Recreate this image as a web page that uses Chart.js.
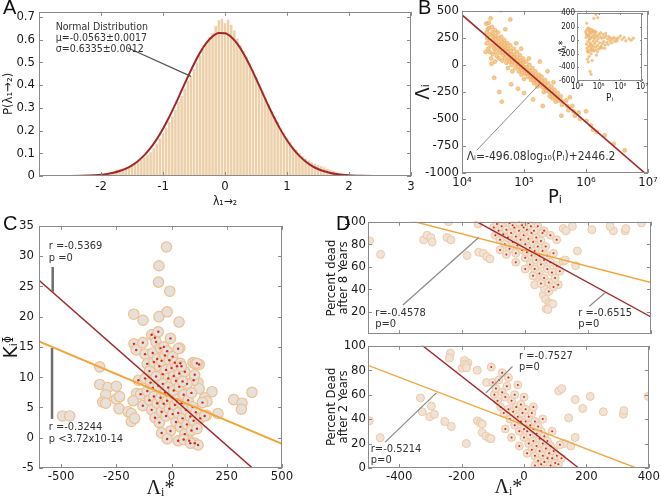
<!DOCTYPE html>
<html lang="en">
<head>
<meta charset="UTF-8">
<title>Lambda panels</title>
<script src="https://cdn.jsdelivr.net/npm/chart.js"></script>
<style>
    body { margin: 0; background: #fff; }
    #fig {
        position: relative;
        width: 661px;
        height: 501px;
        overflow: hidden;
        font-family: 'Liberation Sans', Arial, sans-serif;
    }
    #fig canvas { position: absolute; }
    .tag { position: absolute; font-size: 20px; line-height: 20px; color: #111; }
</style>
</head>
<body>
<div id="fig">
    <canvas id="chart-a" width="420" height="212" style="left:0;top:0"></canvas>
    <canvas id="chart-b" width="251" height="212" style="left:410px;top:0"></canvas>
    <canvas id="inset" width="100" height="98" style="left:550px;top:6px"></canvas>
    <canvas id="chart-c" width="300" height="288" style="left:0;top:213px"></canvas>
    <canvas id="chart-d1" width="339" height="132" style="left:322px;top:212px"></canvas>
    <canvas id="chart-d2" width="339" height="165" style="left:322px;top:336px"></canvas>
    <div class="tag" style="left:3px;top:-3px">A</div>
    <div class="tag" style="left:418px;top:-3px">B</div>
    <div class="tag" style="left:3px;top:213px">C</div>
    <div class="tag" style="left:336px;top:213px">D</div>
</div>
<script>
// ---- panel A: histogram of lambda and normal fit
const aBinCenters = [
    -2.00, -1.95, -1.90, -1.85, -1.80, -1.75, -1.70, -1.65, -1.60, -1.55,
    -1.50, -1.45, -1.40, -1.35, -1.30, -1.25, -1.20, -1.15, -1.10, -1.05,
    -1.00, -0.95, -0.90, -0.85, -0.80, -0.75, -0.70, -0.65, -0.60, -0.55,
    -0.50, -0.45, -0.40, -0.35, -0.30, -0.25, -0.20, -0.15, -0.10, -0.05,
    0.00, 0.05, 0.10, 0.15, 0.20, 0.25, 0.30, 0.35, 0.40, 0.45,
    0.50, 0.55, 0.60, 0.65, 0.70, 0.75, 0.80, 0.85, 0.90, 0.95,
    1.00, 1.05, 1.10, 1.15, 1.20, 1.25, 1.30, 1.35, 1.40, 1.45,
    1.50, 1.55, 1.60, 1.65, 1.70, 1.75, 1.80
];
const aBinHeights = [
    0.004, 0.006, 0.010, 0.014, 0.020, 0.027, 0.030, 0.033, 0.036, 0.042,
    0.046, 0.052, 0.060, 0.070, 0.082, 0.092, 0.104, 0.122, 0.142, 0.165,
    0.188, 0.212, 0.238, 0.262, 0.290, 0.325, 0.352, 0.385, 0.420, 0.440,
    0.470, 0.500, 0.530, 0.560, 0.590, 0.610, 0.630, 0.660, 0.685, 0.690,
    0.672, 0.688, 0.665, 0.640, 0.605, 0.575, 0.550, 0.525, 0.495, 0.465,
    0.435, 0.405, 0.375, 0.345, 0.315, 0.285, 0.262, 0.238, 0.210, 0.190,
    0.168, 0.150, 0.130, 0.115, 0.100, 0.088, 0.077, 0.068, 0.060, 0.054,
    0.048, 0.043, 0.038, 0.032, 0.028, 0.022, 0.015
];
const aCurveX = [-3, -2.5, -2.2, -2, -1.9, -1.8, -1.7, -1.6, -1.5, -1.4, -1.3, -1.2, -1.1, -1, -0.9, -0.8, -0.7,
    -0.6, -0.5, -0.4, -0.3, -0.2, -0.1, 0, 0.1, 0.2, 0.3, 0.4, 0.5, 0.6, 0.7, 0.8, 0.9, 1, 1.1, 1.2, 1.3,
    1.4, 1.5, 1.6, 1.7, 1.8, 2, 2.2, 2.5, 3];
const aCurveY = [0, 0.0004, 0.002, 0.0057, 0.0091, 0.0142, 0.0217, 0.0323, 0.0469, 0.0663, 0.0916, 0.1234, 0.162,
    0.2076, 0.2594, 0.316, 0.3758, 0.4358, 0.4928, 0.5436, 0.585, 0.614, 0.6285, 0.6275, 0.611, 0.5806, 0.538,
    0.4862, 0.4286, 0.3686, 0.309, 0.2528, 0.2017, 0.157, 0.1192, 0.0883, 0.0638, 0.0449, 0.0309, 0.0207,
    0.0135, 0.0086, 0.0033, 0.0011, 0.0002, 0];
const aXTicks = [-2, -1, 0, 1, 2, 3];
const aYTicks = [0, 0.1, 0.2, 0.3, 0.4, 0.5, 0.6, 0.7];

// ---- panel B: Lambda_i against P_i (log) with fitted line
const bPoints = [
    [2.45e4, 380], [2.5e4, 300], [2.55e4, 245], [2.6e4, 330], [2.5e4, 200], [2.65e4, 150], [2.4e4, 120],
    [2.7e4, 390], [2.75e4, 340], [2.8e4, 280], [2.85e4, 225], [2.9e4, 180], [2.8e4, 120], [2.95e4, 60], [2.9e4, 430],
    [3.05e4, 350], [3.1e4, 300], [3.15e4, 265], [3.2e4, 230], [3.25e4, 190], [3.3e4, 150], [3.1e4, 100], [3.0e4, 10],
    [3.4e4, 320], [3.45e4, 270], [3.5e4, 240], [3.55e4, 200], [3.6e4, 160], [3.5e4, 120], [3.65e4, 80], [3.4e4, 30], [3.3e4, -120],
    [3.8e4, 300], [3.85e4, 250], [3.9e4, 210], [4.0e4, 180], [4.05e4, 140], [4.1e4, 110], [3.95e4, 60], [4.0e4, -250], [4.2e4, 505],
    [4.3e4, 260], [4.35e4, 220], [4.4e4, 185], [4.5e4, 150], [4.55e4, 120], [4.6e4, 90], [4.45e4, 40], [4.4e4, -340],
    [4.8e4, 230], [4.9e4, 190], [5.0e4, 160], [5.1e4, 130], [5.05e4, 100], [4.95e4, 60], [5.2e4, 20], [5.0e4, 330],
    [5.4e4, 200], [5.5e4, 150], [5.6e4, 120], [5.7e4, 90], [5.65e4, 60], [5.8e4, 30], [5.5e4, -30],
    [6.0e4, 180], [6.1e4, 130], [6.2e4, 95], [6.35e4, 60], [6.45e4, 30], [6.3e4, 0], [6.5e4, -60], [6.2e4, -180], [6.0e4, 420],
    [6.8e4, 150], [6.9e4, 100], [7.0e4, 70], [7.1e4, 40], [7.3e4, 10], [7.2e4, -30], [7.5e4, 200],
    [7.7e4, 120], [7.8e4, 70], [7.9e4, 40], [8.0e4, 10], [8.1e4, -20], [8.2e4, -60], [8.0e4, -220],
    [8.6e4, 90], [8.8e4, 40], [8.9e4, 10], [9.0e4, -20], [9.2e4, -50], [9.1e4, -90], [9.0e4, 150],
    [9.6e4, 60], [9.8e4, 20], [1.0e5, -20], [1.02e5, -50], [1.04e5, -80], [1.0e5, -130], [1.0e5, -260],
    [1.08e5, 30], [1.1e5, -20], [1.12e5, -50], [1.14e5, -80], [1.16e5, -110], [1.2e5, 60],
    [1.22e5, 0], [1.24e5, -50], [1.26e5, -80], [1.28e5, -110], [1.3e5, -140],
    [1.36e5, -30], [1.38e5, -80], [1.41e5, -110], [1.44e5, -140], [1.46e5, -170], [1.4e5, -320],
    [1.52e5, -60], [1.55e5, -100], [1.58e5, -130], [1.61e5, -160], [1.64e5, -200],
    [1.72e5, -90], [1.75e5, -130], [1.78e5, -160], [1.82e5, -190], [1.8e5, 30],
    [1.92e5, -110], [1.96e5, -150], [2.0e5, -180], [2.04e5, -210], [2.08e5, -250], [2.0e5, -380],
    [2.18e5, -140], [2.22e5, -180], [2.25e5, -210], [2.3e5, -240], [2.4e5, -60],
    [2.45e5, -170], [2.5e5, -220], [2.55e5, -250], [2.6e5, -290],
    [2.75e5, -200], [2.8e5, -240], [2.85e5, -270], [2.9e5, -310], [3.0e5, -160],
    [3.1e5, -230], [3.15e5, -270], [3.2e5, -300], [3.25e5, -340],
    [3.5e5, -260], [3.55e5, -300], [3.6e5, -330],
    [3.9e5, -290], [4.0e5, -330], [4.1e5, -370], [4.0e5, -470],
    [4.8e5, -330], [5.0e5, -380], [5.2e5, -420], [5.5e5, -300],
    [6.0e5, -380], [6.3e5, -430], [6.6e5, -470],
    [7.6e5, -440], [8.0e5, -500],
    [1.0e6, -430], [1.02e6, -520], [1.2e6, -560], [1.3e6, -600], [1.5e6, -620],
    [2.0e6, -650], [2.8e6, -730], [4.2e6, -790]
];
const bFitP = [1e4, 1e7];
const bFitL = [461.9, -1026.0];
const bXTicks = [1e4, 1e5, 1e6, 1e7];
const bYTicks = [-1000, -750, -500, -250, 0, 250, 500];

// ---- inset of B: Lambda*_i against P_i
const insetPoints = [
    [2.5e4, 120], [2.6e4, 40], [2.7e4, -60], [2.8e4, 150], [2.9e4, -120], [3.0e4, 80], [3.1e4, -20], [3.2e4, 180],
    [3.3e4, -180], [3.4e4, 60], [3.5e4, -90], [3.6e4, 130], [3.7e4, 10], [3.8e4, -150], [3.9e4, 90], [4.0e4, -40],
    [4.2e4, 160], [4.3e4, -110], [4.4e4, 30], [4.5e4, -200], [4.6e4, 110], [4.8e4, -70], [5.0e4, 50], [5.2e4, -130],
    [5.4e4, 140], [5.6e4, -20], [5.8e4, 70], [6.0e4, -160], [6.3e4, 100], [6.6e4, -50], [7.0e4, 40], [7.3e4, -100],
    [7.6e4, 120], [8.0e4, -10], [8.5e4, 60], [9.0e4, -80], [9.5e4, 20], [1.0e5, -130], [1.05e5, 90], [1.1e5, -40],
    [1.2e5, 50], [1.3e5, -90], [1.4e5, 30], [1.5e5, -50], [1.6e5, 80], [1.7e5, -20], [1.8e5, 40], [2.0e5, -70],
    [2.2e5, 60], [2.4e5, -30], [2.6e5, 20], [2.8e5, -60], [3.0e5, 50], [3.3e5, -10], [3.6e5, 30], [4.0e5, -40],
    [4.4e5, 10], [5.0e5, 40], [5.5e5, -20], [6.3e5, 20], [7.0e5, -10], [8.0e5, 30], [1.0e6, 60], [1.2e6, 10],
    [1.5e6, 40], [1.8e6, -10], [2.5e6, 20], [3.2e6, 0], [4.0e6, 30],
    [2.7e4, 90], [3.0e4, -160], [3.2e4, 60], [3.5e4, 170], [3.8e4, 20], [4.1e4, -60], [4.4e4, 120], [4.7e4, -150],
    [5.1e4, 150], [5.5e4, -90], [6.1e4, 20], [6.8e4, 130], [7.2e4, -140], [7.8e4, 70], [8.8e4, -170], [1.15e5, -120],
    [1.25e5, 110], [1.45e5, -110], [1.9e5, -120], [2.1e5, 100],
    [3.0e4, -280], [3.3e4, -320], [4.0e4, -460], [4.5e4, -500], [5.0e4, -300], [7.5e4, 380], [6.0e4, 320],
    [9.0e4, 330], [8.0e4, -220], [2.8e4, 250], [3.6e4, -240]
];
const insetYTicks = [-600, -400, -200, 0, 200, 400];

// ---- panel C: K_i against Lambda*_i
const cOuter = [
    [-23, 31.5], [-57, 28.4], [-59, 25.7], [-8, 24.2], [-171, 20.4], [-129, 19.4], [-57, 20.0], [-20, 20.8], [34, 19.1],
    [-325, 11.7], [-325, 8.8], [-288, 8.3], [-298, 7.1], [-312, 5.9], [-298, 5.7], [-250, 8.5], [-250, 6.4],
    [-235, 6.8], [-238, 4.8], [-197, 4.3], [-182, 4.0], [-182, 2.7], [-167, 3.2], [-159, 7.3], [-174, 6.1],
    [-494, 3.6], [-461, 3.6],
    [210, 4.0], [281, 6.3], [319, 5.7], [316, 4.7], [364, 7.5], [183, 7.6], [150, 6.6], [160, 6.0], [158, 3.7],
    [97, 12.4], [107, 12.2], [120, 9.1], [125, 8.1], [37, 14.8]
];
const cCore = [
    [-170, 15.5], [-160, 14.5], [-130, 15.7], [-120, 13.8], [-110, 12.2], [-100, 11], [-90, 17], [-85, 14],
    [-80, 12.5], [-75, 16.5], [-70, 15.8], [-65, 13], [-60, 17.5], [-55, 11.8], [-50, 14.8], [-45, 12.7],
    [-40, 10.5], [-35, 15], [-30, 13.6], [-25, 11.2], [-20, 14.3], [-15, 9.8], [-10, 12.8], [-5, 16.4],
    [0, 11.5], [5, 13.4], [10, 10.2], [15, 12.4], [20, 9.4], [25, 11.8], [30, 14.7], [35, 10.6], [40, 12.3],
    [-150, 9.5], [-140, 7.2], [-130, 5.3], [-120, 9.8], [-110, 7.7], [-100, 6.2], [-95, 9.1], [-90, 4.6],
    [-85, 8.2], [-80, 6.8], [-75, 3.3], [-70, 10.1], [-65, 5.7], [-60, 8.6], [-55, 2.5], [-50, 6.6],
    [-45, 4.3], [-40, 8.9], [-35, 5.6], [-30, 7.4], [-25, 3.6], [-20, 6.1], [-15, 8.3], [-10, 4.8],
    [-5, 1.1], [0, 6.7], [5, 3.9], [10, 7.8], [15, 5.4], [20, 2.6], [25, 6.3], [30, 4.1], [35, 8.4],
    [40, 1.8], [45, 5.7], [50, 3.2], [55, 7.1], [60, 0.6], [65, 4.6], [70, 2.2], [75, 6.2], [80, -0.5],
    [85, 3.5], [90, 1.2], [95, 5.1], [100, 2.8], [105, -0.9], [110, 4.2], [115, 1.5], [120, -1.2],
    [125, 12.1], [130, 3.2], [100, 9.5], [90, 7.4], [70, 8.9], [60, 10.9], [50, 9.3], [45, 11.8],
    [140, 5.8], [150, 3.6], [-45, 0.8], [-20, -0.2], [30, -0.5], [55, -0.3], [85, -0.9], [105, 10.4], [115, 12.3]
];
const cFitDark = [[-600, 26.0], [500, -9.3]];
const cFitOrange = [[-600, 15.9], [500, -1.0]];
const cXTicks = [-500, -250, 0, 250, 500];
const cYTicks = [-5, 0, 5, 10, 15, 20, 25, 30, 35];

// ---- panel D: percent dead after 8 and 2 years against Lambda*_i
const d8Outer = [
    [-495, 83], [-460, 71], [-323, 84], [-312, 88], [-300, 86], [-296, 82], [-249, 86], [-236, 84], [-244, 100],
    [-185, 70], [-148, 73], [-133, 72], [-122, 69], [-112, 67], [-150, 98],
    [121, 65], [127, 66], [166, 74], [160, 61], [121, 94], [130, 92], [150, 96], [212, 93], [280, 92],
    [318, 92], [320, 94], [370, 99], [270, 96],
    [58, 35], [62, 40], [65, 31], [67, 22.5], [75, 28], [80, 27], [88, 27], [72, 22], [40, 46], [30, 44]
];
const d8Core = [
    [-100, 95], [-95, 88], [-90, 98], [-85, 92], [-80, 84], [-75, 96], [-70, 89], [-65, 80], [-60, 93],
    [-55, 86], [-50, 99], [-50, 76], [-45, 90], [-40, 82], [-35, 95], [-30, 87], [-30, 72], [-25, 79],
    [-20, 92], [-15, 84], [-10, 97], [-10, 75], [-5, 88], [0, 80], [0, 68], [5, 93], [5, 73], [10, 85],
    [15, 77], [15, 62], [20, 90], [20, 70], [25, 82], [30, 74], [30, 58], [35, 86], [35, 66], [40, 78],
    [45, 70], [45, 54], [50, 83], [50, 62], [55, 74], [60, 66], [60, 50], [65, 78], [70, 58], [70, 70],
    [75, 46], [80, 64], [85, 55], [90, 72], [95, 50], [100, 61], [105, 44], [110, 56], [-40, 97], [-20, 100],
    [10, 99], [40, 96], [60, 92], [80, 88], [100, 84], [-60, 71], [-80, 75], [-30, 64], [0, 58], [25, 52],
    [50, 45], [75, 38], [90, 42], [-5, 95], [18, 96], [28, 92], [55, 90]
];
const d2Outer = [
    [-496, 38.6], [-461, 24.8], [-332, 57.3], [-326, 46], [-297, 50.6], [-302, 42], [-287, 44], [-254, 38],
    [-233, 34], [-185, 20], [-198, 81.8], [-180, 86], [-236, 94], [-239, 90], [-191, 88], [-191, 85],
    [-184, 84], [-184, 82], [-150, 80], [-149, 38.6], [-140, 37], [-134, 36], [-134, 29], [-122, 26],
    [-112, 24.5], [-106, 24], [-120, 70],
    [111, 63], [121, 65], [164, 56], [188, 48.7], [212, 58.6], [164, 25], [143, 41], [254, 46], [318, 44],
    [320, 47], [398, 58.6], [130, 20], [150, 18]
];
const d2Core = [
    [-105, 82.6], [-100, 70], [-95, 60], [-90, 65], [-85, 55], [-80, 72], [-75, 50], [-70, 62], [-65, 45],
    [-60, 58], [-55, 67], [-50, 48], [-45, 40], [-40, 55], [-35, 46], [-30, 60], [-30, 35], [-25, 50],
    [-20, 42], [-15, 30], [-10, 52], [-10, 38], [-5, 45], [0, 32], [0, 25], [5, 48], [5, 38], [10, 30],
    [15, 42], [15, 20], [20, 35], [20, 27], [25, 45], [25, 15], [30, 32], [30, 22], [35, 38], [35, 10],
    [40, 28], [40, 18], [45, 34], [45, 6], [50, 24], [50, 14], [55, 30], [55, 3], [60, 20], [60, 10],
    [65, 26], [65, 5], [70, 16], [75, 22], [75, 8], [80, 12], [85, 18], [85, 2], [90, 8], [95, 14],
    [100, 4], [105, 10], [110, 3], [115, 19], [120, 8], [-70, 78], [-50, 74], [-20, 68], [0, 58], [30, 50],
    [60, 40], [90, 30], [-60, 32], [-40, 25], [-15, 18], [10, 12], [35, 2]
];
const d8FitDark = [[-500, 153], [400, 15.3]];
const d8FitOrange = [[-500, 110.7], [400, 46]];
const d2FitDark = [[-500, 135.1], [400, -45]];
const d2FitOrange = [[-500, 84], [400, -3.9]];
const dXTicks = [-400, -200, 0, 200, 400];
const d8YTicks = [20, 40, 60, 80, 100];
const d2YTicks = [0, 20, 40, 60, 80, 100];

// ---- shared style
const DARK = '#a3282a';
const ORANGE = '#f2a53a';
const FONT = "'Liberation Sans Narrow', 'DejaVu Sans Condensed', 'Liberation Sans', Arial, sans-serif";
Chart.defaults.font.family = FONT;
Chart.defaults.color = '#1a1a1a';

const pts = arr => arr.map(([x, y]) => ({ x, y }));
const tickList = list => scale => { scale.ticks = list.map(v => ({ value: v })); };
const plain = v => String(v);
const SUP = { 4: '⁴', 5: '⁵', 6: '⁶', 7: '⁷' };
const powLabel = v => '10' + SUP[Math.round(Math.log10(v))];

// matlab style box with inward ticks
const framePlugin = {
    id: 'frame',
    afterDatasetsDraw(chart) {
        const { ctx, chartArea: a, scales } = chart;
        const len = chart.options.tickIn || 4;
        ctx.save();
        ctx.strokeStyle = '#8a8a8a';
        ctx.lineWidth = 1;
        ctx.beginPath();
        scales.x.ticks.forEach(t => {
            const px = Math.round(scales.x.getPixelForValue(t.value)) + 0.5;
            ctx.moveTo(px, a.bottom); ctx.lineTo(px, a.bottom - len);
            ctx.moveTo(px, a.top); ctx.lineTo(px, a.top + len);
        });
        scales.y.ticks.forEach(t => {
            const py = Math.round(scales.y.getPixelForValue(t.value)) + 0.5;
            ctx.moveTo(a.left, py); ctx.lineTo(a.left + len, py);
            ctx.moveTo(a.right, py); ctx.lineTo(a.right - len, py);
        });
        ctx.stroke();
        ctx.strokeRect(Math.round(a.left) + 0.5, Math.round(a.top) + 0.5,
            Math.round(a.width) - 1, Math.round(a.height) - 1);
        ctx.restore();
    }
};

// white plot face, used by the inset so it hides what lies under it
const facePlugin = {
    id: 'face',
    beforeDraw(chart) {
        const { ctx, chartArea: a } = chart;
        ctx.save();
        ctx.fillStyle = '#fff';
        ctx.fillRect(a.left, a.top, a.width, a.height);
        ctx.restore();
    }
};

// leader lines and small texts, placed in data units
function notes(spec) {
    return {
        id: 'notes',
        afterDatasetsDraw(chart) {
            const { ctx } = chart;
            const sx = chart.scales.x, sy = chart.scales.y;
            ctx.save();
            (spec.lines || []).forEach(l => {
                ctx.strokeStyle = l.color;
                ctx.lineWidth = l.width;
                ctx.beginPath();
                ctx.moveTo(sx.getPixelForValue(l.from[0]), sy.getPixelForValue(l.from[1]));
                ctx.lineTo(sx.getPixelForValue(l.to[0]), sy.getPixelForValue(l.to[1]));
                ctx.stroke();
            });
            ctx.fillStyle = '#333';
            ctx.font = spec.font;
            ctx.textBaseline = 'middle';
            (spec.texts || []).forEach(t => {
                const x0 = sx.getPixelForValue(t.at[0]);
                const y0 = sy.getPixelForValue(t.at[1]);
                t.lines.forEach((s, i) => ctx.fillText(s, x0, y0 + i * spec.lineHeight));
            });
            ctx.restore();
        }
    };
}

const baseOptions = (pad) => ({
    responsive: false,
    animation: false,
    devicePixelRatio: 1,
    events: [],
    layout: { padding: pad },
    plugins: { legend: { display: false }, tooltip: { enabled: false } }
});
const noGrid = { display: false, drawTicks: false };

// ---- A
new Chart(document.getElementById('chart-a'), {
    type: 'bar',
    data: {
        datasets: [
            {
                type: 'line', data: aCurveX.map((x, i) => ({ x, y: aCurveY[i] })),
                borderColor: DARK, borderWidth: 2, pointRadius: 0, cubicInterpolationMode: 'monotone', order: 0
            },
            {
                type: 'bar', data: aBinCenters.map((x, i) => ({ x, y: aBinHeights[i] })),
                backgroundColor: '#ecd0aa', barPercentage: 0.82, categoryPercentage: 1, order: 1
            }
        ]
    },
    options: {
        ...baseOptions({ top: 4, right: 9, left: 0, bottom: 0 }),
        scales: {
            x: {
                type: 'linear', min: -3, max: 3, offset: false, grid: noGrid, border: { display: false },
                afterBuildTicks: tickList(aXTicks),
                ticks: { font: { size: 13 }, padding: 3, maxRotation: 0, callback: plain },
                title: { display: true, text: 'λ₁→₂', font: { size: 12 }, padding: { top: 0, bottom: 3 } },
                afterFit: s => { s.height = 36; }
            },
            y: {
                min: 0, max: 0.722, grid: noGrid, border: { display: false },
                afterBuildTicks: tickList(aYTicks),
                ticks: { font: { size: 13 }, padding: 4, callback: plain },
                title: { display: true, text: 'P(λ₁→₂)', font: { size: 13 }, padding: { top: 1, bottom: 0 } },
                afterFit: s => { s.width = 39; }
            }
        }
    },
    plugins: [framePlugin, notes({
        font: '10.5px ' + FONT, lineHeight: 11,
        lines: [{ from: [-1.57, 0.564], to: [-0.55, 0.438], color: '#555', width: 1.2 }],
        texts: [{ at: [-2.73, 0.655], lines: ['Normal Distribution', 'μ=-0.0563±0.0017', 'σ=0.6335±0.0012'] }]
    })]
});

// ---- B
new Chart(document.getElementById('chart-b'), {
    type: 'scatter',
    data: {
        datasets: [
            {
                type: 'line', data: bFitP.map((x, i) => ({ x, y: bFitL[i] })),
                borderColor: DARK, borderWidth: 1.6, pointRadius: 0, order: 0
            },
            {
                data: pts(bPoints), pointRadius: 2, borderWidth: 0.6,
                backgroundColor: 'rgba(243,190,120,0.8)', borderColor: 'rgba(236,168,90,0.9)', order: 1
            }
        ]
    },
    options: {
        ...baseOptions({ top: 9, right: 13, left: 0, bottom: 0 }),
        scales: {
            x: {
                type: 'logarithmic', min: 1e4, max: 1e7, grid: noGrid, border: { display: false },
                afterBuildTicks: tickList(bXTicks),
                ticks: { font: { size: 13 }, padding: 2, maxRotation: 0, callback: powLabel },
                title: { display: true, text: 'Pᵢ', font: { size: 20 }, padding: { top: 0, bottom: 2 } },
                afterFit: s => { s.height = 39; }
            },
            y: {
                min: -1000, max: 500, grid: noGrid, border: { display: false },
                afterBuildTicks: tickList(bYTicks),
                ticks: { font: { size: 13 }, padding: 3, callback: plain },
                title: { display: true, text: 'Λᵢ', font: { size: 20 }, padding: { top: 2, bottom: 0 } },
                afterFit: s => { s.width = 52; }
            }
        }
    },
    plugins: [framePlugin, notes({
        font: '12px ' + FONT, lineHeight: 12,
        lines: [{ from: [1.73e4, -790], to: [1.81e5, -174], color: '#8a8a8a', width: 1 }],
        texts: [{ at: [1.19e4, -851], lines: ['Λᵢ=-496.08log₁₀(Pᵢ)+2446.2'] }]
    })]
});

// ---- B inset
new Chart(document.getElementById('inset'), {
    type: 'scatter',
    data: {
        datasets: [{
            data: pts(insetPoints), pointRadius: 1.3, borderWidth: 0.4,
            backgroundColor: 'rgba(243,190,120,0.85)', borderColor: 'rgba(236,168,90,0.9)'
        }]
    },
    options: {
        ...baseOptions({ top: 7, right: 8, left: 0, bottom: 0 }),
        tickIn: 2,
        scales: {
            x: {
                type: 'logarithmic', min: 1e4, max: 1e7, grid: noGrid, border: { display: false },
                afterBuildTicks: tickList(bXTicks),
                ticks: { font: { size: 8 }, padding: 1, maxRotation: 0, callback: powLabel },
                title: { display: true, text: 'Pᵢ', font: { size: 10 }, padding: { top: 0, bottom: 0 } },
                afterFit: s => { s.height = 23; }
            },
            y: {
                min: -600, max: 400, grid: noGrid, border: { display: false },
                afterBuildTicks: tickList(insetYTicks),
                ticks: { font: { size: 8 }, padding: 2, callback: plain },
                title: { display: true, text: 'Λᵢ*', font: { size: 10 }, padding: { top: 7, bottom: 0 } },
                afterFit: s => { s.width = 27; }
            }
        }
    },
    plugins: [facePlugin, framePlugin]
});

// ---- C
new Chart(document.getElementById('chart-c'), {
    type: 'scatter',
    data: {
        datasets: [
            { type: 'line', data: pts(cFitDark), borderColor: DARK, borderWidth: 1.5, pointRadius: 0, order: 0 },
            { type: 'line', data: pts(cFitOrange), borderColor: ORANGE, borderWidth: 2, pointRadius: 0, order: 0 },
            { data: pts(cCore), pointRadius: 1.2, borderWidth: 0, backgroundColor: '#d8261e', order: 1 },
            {
                data: pts(cOuter.concat(cCore)), pointRadius: 5.2, borderWidth: 1.2,
                backgroundColor: '#e5e0dc', borderColor: '#efc08c', order: 2
            }
        ]
    },
    options: {
        ...baseOptions({ top: 8, right: 18, left: 0, bottom: 0 }),
        scales: {
            x: {
                min: -600, max: 500, grid: noGrid, border: { display: false },
                afterBuildTicks: tickList(cXTicks),
                ticks: { font: { size: 13 }, padding: 1, maxRotation: 0, callback: plain },
                title: { display: true, text: 'Λᵢ*', font: { size: 20, family: 'Liberation Serif' }, padding: { top: 0, bottom: 0 } },
                afterFit: s => { s.height = 33; }
            },
            y: {
                min: -5, max: 35, grid: noGrid, border: { display: false },
                afterBuildTicks: tickList(cYTicks),
                ticks: { font: { size: 13 }, padding: 5, callback: plain },
                title: { display: true, text: 'Kᵢᶲ', font: { size: 20 }, padding: { top: 0, bottom: 0 } },
                afterFit: s => { s.width = 39; }
            }
        }
    },
    plugins: [framePlugin, notes({
        font: '11px ' + FONT, lineHeight: 12,
        lines: [
            { from: [-538, 28.2], to: [-538, 24.1], color: '#6e6e6e', width: 2.5 },
            { from: [-541, 14.8], to: [-541, 3.1], color: '#6e6e6e', width: 2.5 }
        ],
        texts: [
            { at: [-556, 31.6], lines: ['r =-0.5369', 'p =0'] },
            { at: [-556, 1.7], lines: ['r =-0.3244', 'p <3.72x10-14'] }
        ]
    })]
});

// ---- D, shared builder for the two stacked plots
function dConfig(core, outer, fitDark, fitOrange, yTicks, showX, title, pad, note) {
    return {
        type: 'scatter',
        data: {
            datasets: [
                { type: 'line', data: pts(fitDark), borderColor: DARK, borderWidth: 1.4, pointRadius: 0, order: 0 },
                { type: 'line', data: pts(fitOrange), borderColor: ORANGE, borderWidth: 1.4, pointRadius: 0, order: 0 },
                { data: pts(core), pointRadius: 1, borderWidth: 0, backgroundColor: '#d8261e', order: 1 },
                {
                    data: pts(outer.concat(core)), pointRadius: 4, borderWidth: 1,
                    backgroundColor: '#efe3d8', borderColor: '#efc9a2', order: 2
                }
            ]
        },
        options: {
            ...baseOptions(pad),
            scales: {
                x: {
                    min: -500, max: 400, grid: noGrid, border: { display: false },
                    afterBuildTicks: tickList(dXTicks),
                    ticks: { display: showX, font: { size: 13 }, padding: 1, maxRotation: 0, callback: plain },
                    title: { display: showX, text: 'Λᵢ*', font: { size: 20, family: 'Liberation Serif' }, padding: { top: 0, bottom: 1 } },
                    afterFit: s => { s.height = showX ? 33 : 0; }
                },
                y: {
                    min: 0, max: 100, grid: noGrid, border: { display: false },
                    afterBuildTicks: tickList(yTicks),
                    ticks: { font: { size: 13 }, padding: 2, callback: plain },
                    title: { display: true, text: title, font: { size: 13, lineHeight: 0.9 }, padding: { top: 4, bottom: 0 } },
                    afterFit: s => { s.width = 46; }
                }
            }
        },
        plugins: [framePlugin, note]
    };
}

new Chart(document.getElementById('chart-d1'), dConfig(
    d8Core, d8Outer, d8FitDark, d8FitOrange, d8YTicks, false,
    ['Percent dead', 'after 8 Years'], { top: 8, right: 10, left: 0, bottom: 0 },
    notes({
        font: '11px ' + FONT, lineHeight: 11,
        lines: [
            { from: [-389, 26.0], to: [-148, 86.0], color: '#8a8a8a', width: 1.2 },
            { from: [204, 24.8], to: [254, 36.9], color: '#8a8a8a', width: 1.2 }
        ],
        texts: [
            { at: [-477, 18.8], lines: ['r=-0.4578', 'p=0'] },
            { at: [169, 18.8], lines: ['r =-0.6515', 'p=0'] }
        ]
    })
));

new Chart(document.getElementById('chart-d2'), dConfig(
    d2Core, d2Outer, d2FitDark, d2FitOrange, d2YTicks, true,
    ['Percent Dead', 'after 2 Years'], { top: 8, right: 10, left: 0, bottom: 0 },
    notes({
        font: '11px ' + FONT, lineHeight: 11,
        lines: [
            { from: [-37, 83.1], to: [-122, 61.5], color: '#8a8a8a', width: 1.2 },
            { from: [-445, 21.2], to: [-281, 61.5], color: '#8a8a8a', width: 1.2 }
        ],
        texts: [
            { at: [-16, 91.7], lines: ['r =-0.7527', 'p=0'] },
            { at: [-491, 15.1], lines: ['r=-0.5214', 'p=0'] }
        ]
    })
));
</script>
</body>
</html>
